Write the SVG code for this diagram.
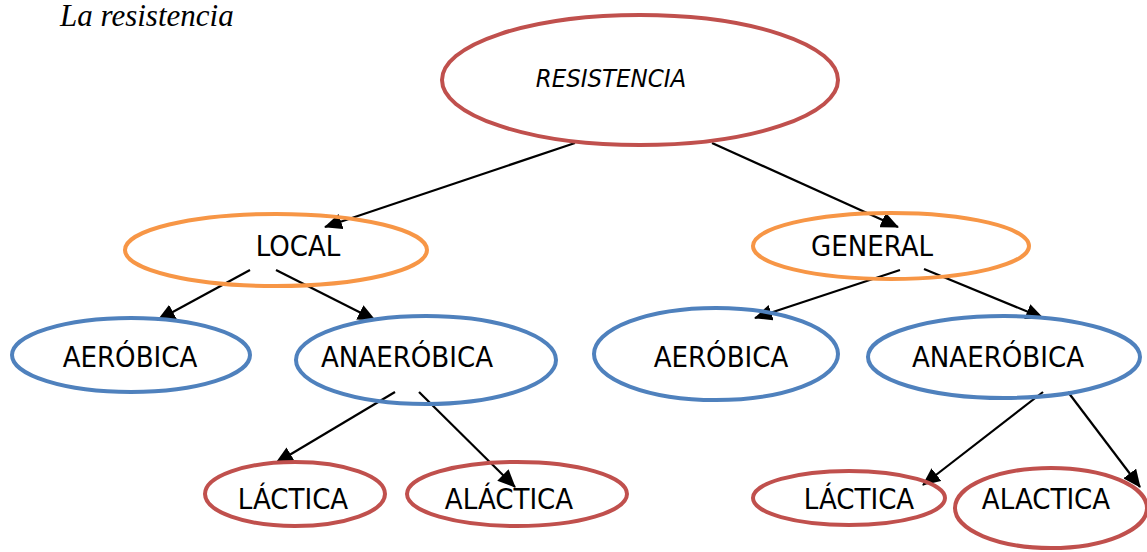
<svg xmlns="http://www.w3.org/2000/svg" width="1147" height="552" viewBox="0 0 1147 552">
<style>
.e{fill:none;stroke-width:4}
.red{stroke:#C0504D}
.org{stroke:#F79646}
.blu{stroke:#4F81BD}
.t{font-family:"DejaVu Sans Condensed","DejaVu Sans",sans-serif;font-stretch:condensed;font-size:29px;fill:#000;text-anchor:middle}
.c line{stroke:#000;stroke-width:2.2;marker-end:url(#ah)}
</style>
<defs>
<marker id="ah" markerUnits="userSpaceOnUse" markerWidth="18" markerHeight="16" refX="17" refY="8" orient="auto">
<path d="M0,0 L18,8 L0,16 Z" fill="#000"/>
</marker>
</defs>
<rect width="1147" height="552" fill="#fff"/>
<text x="60" y="26" font-family="Liberation Serif,serif" font-style="italic" font-size="31">La resistencia</text>
<g class="c">
<line x1="575" y1="143" x2="325" y2="227"/>
<line x1="712" y1="143" x2="898" y2="227"/>
<line x1="250" y1="270" x2="158" y2="320"/>
<line x1="276" y1="270" x2="375" y2="320"/>
<line x1="900" y1="270" x2="755" y2="318"/>
<line x1="924" y1="269" x2="1043" y2="318"/>
<line x1="395" y1="392" x2="276" y2="463"/>
<line x1="419" y1="392" x2="515" y2="487"/>
<line x1="1043" y1="392" x2="923" y2="485"/>
<line x1="1068" y1="392" x2="1140" y2="487"/>
</g>
<g id="resistencia"><ellipse class="e red" cx="640" cy="80" rx="198" ry="65"/><text class="t" x="611" y="87" style="font-style:italic;font-size:25.5px">RESISTENCIA</text></g>
<g id="local"><ellipse class="e org" cx="276" cy="250" rx="151" ry="36"/><text class="t" x="298" y="256">LOCAL</text></g>
<g id="general"><ellipse class="e org" cx="891" cy="246" rx="138" ry="33"/><text class="t" x="872" y="256">GENERAL</text></g>
<g id="aerobica1"><ellipse class="e blu" cx="131" cy="355" rx="119" ry="37"/><text class="t" x="130" y="367">AERÓBICA</text></g>
<g id="anaerobica1"><ellipse class="e blu" cx="426" cy="360" rx="130" ry="44"/><text class="t" x="407" y="367">ANAERÓBICA</text></g>
<g id="aerobica2"><ellipse class="e blu" cx="716" cy="354" rx="122" ry="46"/><text class="t" x="721" y="367">AERÓBICA</text></g>
<g id="anaerobica2"><ellipse class="e blu" cx="1004" cy="357" rx="136" ry="41"/><text class="t" x="998" y="367">ANAERÓBICA</text></g>
<g id="lactica1"><ellipse class="e red" cx="295" cy="494" rx="90" ry="32"/><text class="t" x="293" y="509">LÁCTICA</text></g>
<g id="alactica1"><ellipse class="e red" cx="517" cy="494" rx="110" ry="32"/><text class="t" x="509" y="509">ALÁCTICA</text></g>
<g id="lactica2"><ellipse class="e red" cx="849" cy="498" rx="96" ry="27"/><text class="t" x="859" y="509">LÁCTICA</text></g>
<g id="alactica2"><ellipse class="e red" cx="1051" cy="508" rx="96" ry="40"/><text class="t" x="1046" y="509">ALACTICA</text></g>
</svg>
